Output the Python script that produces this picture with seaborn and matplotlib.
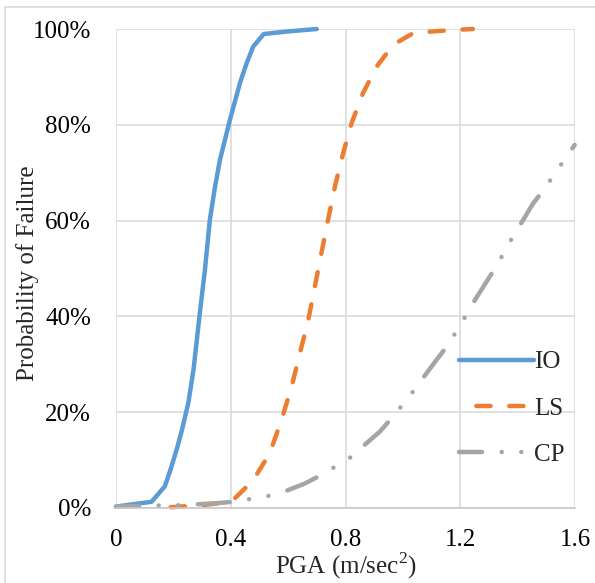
import matplotlib
matplotlib.use("Agg")
import matplotlib.pyplot as plt
import seaborn as sns
import pandas as pd
from matplotlib.patches import Rectangle
from matplotlib.ticker import FuncFormatter

# ---- data ----
io_pga = [0.0, 0.124, 0.17, 0.19, 0.211, 0.23, 0.252, 0.27, 0.292, 0.31, 0.327,
          0.345, 0.362, 0.397, 0.432, 0.455, 0.478, 0.515, 0.6, 0.70]
io_pf = [0.3, 1.3, 4.5, 8.0, 12.1, 16.3, 21.9, 28.8, 40.6, 49.7, 60.1,
         67.0, 72.6, 81.0, 88.7, 92.8, 96.3, 98.96, 99.5, 100.0]

ls_pga = [0.13, 0.2, 0.3, 0.362, 0.414, 0.478, 0.536, 0.577, 0.612, 0.641, 0.670,
          0.693, 0.716, 0.739, 0.763, 0.792, 0.821, 0.861, 0.908, 0.966, 1.035,
          1.105, 1.18, 1.244]
ls_pf = [0.0, 0.2, 0.6, 1.0, 2.0, 5.8, 11.4, 18.4, 25.3, 32.3, 39.2,
         46.2, 53.2, 60.1, 67.1, 74.1, 80.3, 86.6, 92.1, 96.7, 99.1,
         99.5, 99.8, 100.0]

cp_pga = [0.0, 0.12, 0.23, 0.35, 0.408, 0.53, 0.594, 0.658, 0.716, 0.821, 0.867,
          0.919, 0.966, 1.035, 1.117, 1.157, 1.221, 1.253, 1.325, 1.383, 1.418,
          1.453, 1.494, 1.563, 1.599]
cp_pf = [0.3, 0.5, 0.6, 1.0, 1.3, 2.5, 3.6, 5.1, 6.9, 10.7, 13.2,
         15.9, 19.1, 24.3, 30.9, 34.0, 40.3, 43.6, 50.4, 56.6, 60.0,
         63.5, 66.7, 72.7, 75.8]

series_names = ["IO", "LS", "CP"]
x_ticks = [0, 0.4, 0.8, 1.2, 1.6]
x_tick_labels = ["0", "0.4", "0.8", "1.2", "1.6"]
y_ticks = [0, 20, 40, 60, 80, 100]

# ---- style ----
sns.set_theme(style="white")
plt.rcParams["font.family"] = ["Liberation Serif", "DejaVu Serif"]
plt.rcParams["mathtext.fontset"] = "custom"
plt.rcParams["mathtext.rm"] = "Liberation Serif"

FS = 18

fig = plt.figure(figsize=(5.95, 5.83), dpi=100)
ax = fig.add_axes([116 / 595, 1 - 508 / 583, (575 - 116) / 595, (508 - 29) / 583])

colors = ["#5B9BD5", "#ED7D31", "#A5A5A5"]
lw = 3.2
styles = [
    "-",
    (3.5, (3.2, 4.2)),
    (2.0, (7.2, 4.4, 0.01, 4.4, 0.01, 4.4)),
]

dfs = [
    pd.DataFrame({"PGA": io_pga, "Pf": io_pf}),
    pd.DataFrame({"PGA": ls_pga, "Pf": ls_pf}),
    pd.DataFrame({"PGA": cp_pga, "Pf": cp_pf}),
]

for df, name, c, ls in zip(dfs, series_names, colors, styles):
    sns.lineplot(data=df, x="PGA", y="Pf", ax=ax, color=c, linewidth=lw,
                 linestyle=ls, label=name, sort=False,
                 solid_capstyle="round", dash_capstyle="round",
                 solid_joinstyle="round", clip_on=False)

ax.set_xlim(0, 1.6)
ax.set_ylim(0, 100)
ax.set_xticks(x_ticks)
ax.set_xticklabels(x_tick_labels)
ax.set_yticks(y_ticks)
ax.yaxis.set_major_formatter(FuncFormatter(lambda v, p: f"{int(round(v))}%"))

ax.grid(True, color="#D9D9D9", linewidth=1.1)
ax.set_axisbelow(True)
for s in ["top", "right", "left"]:
    ax.spines[s].set_visible(False)
ax.spines["bottom"].set_color("#C8C8C8")
ax.spines["bottom"].set_linewidth(1.2)

ax.tick_params(axis="both", length=0, labelsize=FS, colors="black")
ax.tick_params(axis="y", pad=18)
ax.tick_params(axis="x", pad=15)

ax.set_xlabel("PGA (m/sec$^{2}$)", fontsize=FS)
ax.set_ylabel("Probability of Failure", fontsize=FS)
ax.xaxis.set_label_coords(0.5, (508 - 550) / 479)
ax.yaxis.set_label_coords((16 - 116) / 459, 0.49)
ax.yaxis.label.set_va("top")

leg = ax.legend(loc="upper left", bbox_to_anchor=(449 / 595, 1 - 341 / 583),
                bbox_transform=fig.transFigure, frameon=False, fontsize=FS,
                handlelength=3.0, labelspacing=0.95, handletextpad=0.0,
                borderaxespad=0)

# figure border (Excel chart area)
fig.patches.append(Rectangle((5 / 595, -0.2), 1.5, 1 - 6.5 / 583 + 0.2,
                             transform=fig.transFigure, fill=False,
                             edgecolor="#D9D9D9", linewidth=1.2))

fig.savefig("out.png", dpi=100)
